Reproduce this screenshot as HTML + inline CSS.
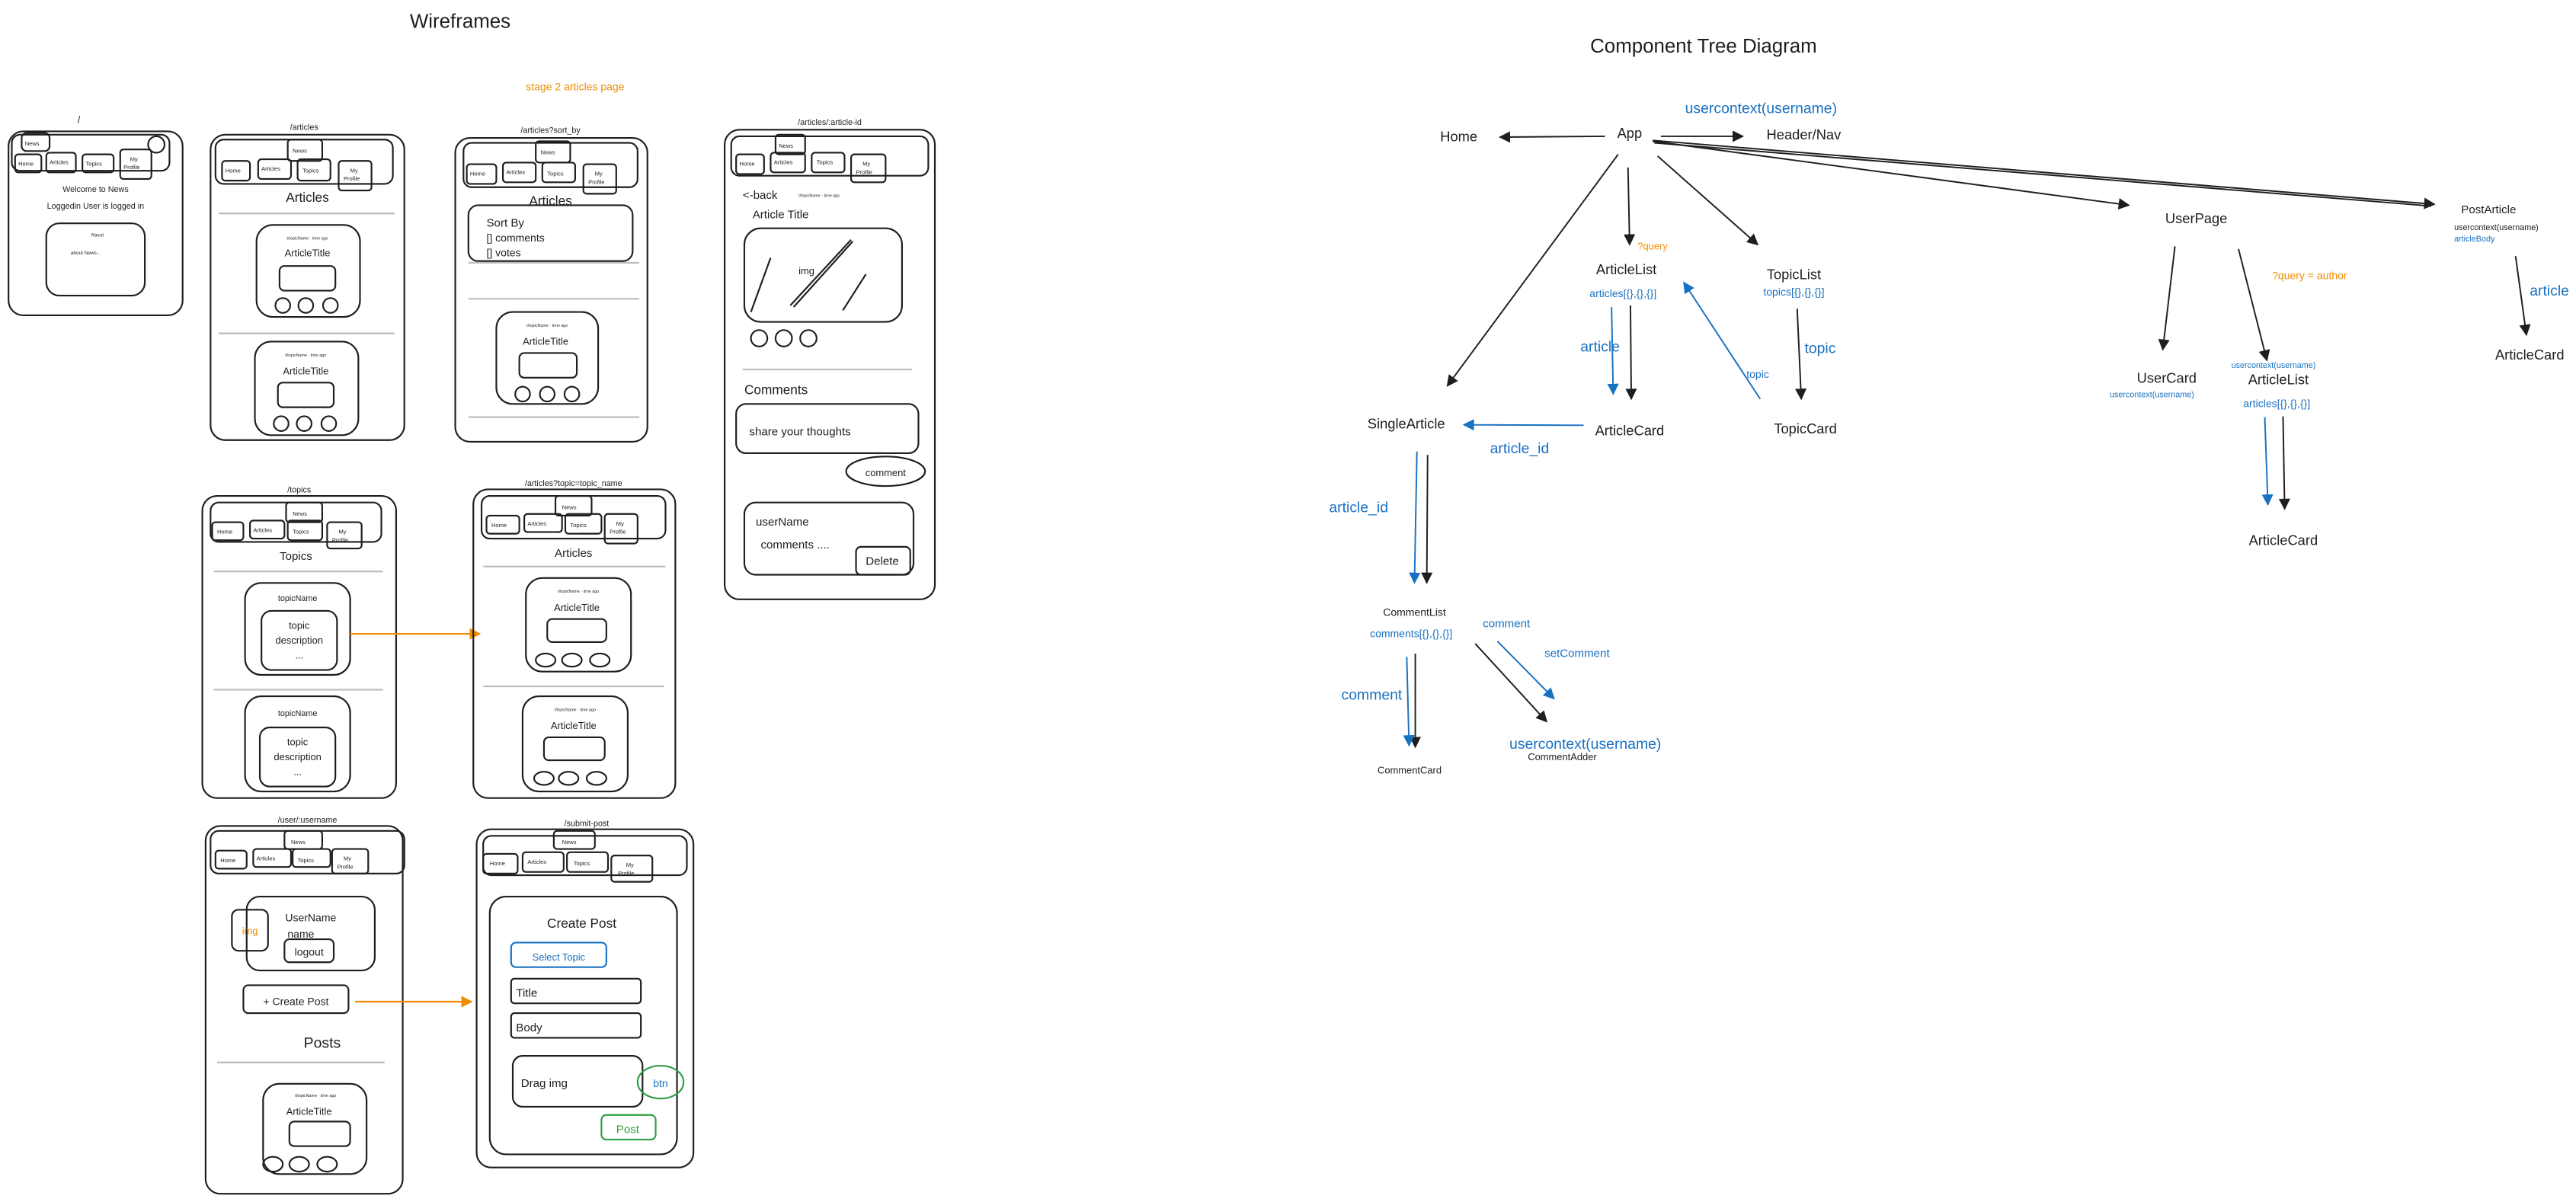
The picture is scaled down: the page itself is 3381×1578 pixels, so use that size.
<!DOCTYPE html>
<html><head><meta charset="utf-8"><style>
html,body{margin:0;padding:0;background:#fff}
svg{display:block}
text{font-family:"Liberation Sans",sans-serif;fill:#1e1e1e}
.b{fill:#1971c2}.o{fill:#f08c00}.g{fill:#2f9e44}
</style></head><body>
<svg width="3381" height="1578" viewBox="0 0 1568 732" xmlns="http://www.w3.org/2000/svg">
<defs>
<marker id="ak" viewBox="0 0 10 10" refX="9" refY="5" markerWidth="7" markerHeight="7" orient="auto" markerUnits="userSpaceOnUse"><path d="M0,0L10,5L0,10z" fill="#1e1e1e"/></marker>
<marker id="ab" viewBox="0 0 10 10" refX="9" refY="5" markerWidth="7" markerHeight="7" orient="auto" markerUnits="userSpaceOnUse"><path d="M0,0L10,5L0,10z" fill="#1971c2"/></marker>
<marker id="ao" viewBox="0 0 10 10" refX="9" refY="5" markerWidth="7" markerHeight="7" orient="auto" markerUnits="userSpaceOnUse"><path d="M0,0L10,5L0,10z" fill="#f08c00"/></marker>
</defs>
<rect width="1568" height="732" fill="#fff"/>

<g fill="none" stroke="#1e1e1e" stroke-width="1">
<text x="280" y="17" font-size="12" text-anchor="middle" stroke="none">Wireframes</text>
<text x="350" y="55" font-size="6.5" text-anchor="middle" class="o" stroke="none">stage 2 articles page</text>

<!-- Phone 1 "/" -->
<text x="47" y="75" font-size="6" stroke="none">/</text>
<rect x="5" y="80" width="106" height="112" rx="9"/>
<rect x="7" y="82" width="96" height="22" rx="5"/>
<rect x="13" y="81" width="17" height="11" rx="3"/><text x="15" y="88.5" font-size="3.5" stroke="none">News</text>
<circle cx="95" cy="88" r="5"/>
<rect x="9" y="94" width="16" height="11" rx="2"/><text x="11" y="101" font-size="3.5" stroke="none">Home</text>
<rect x="28" y="93" width="18" height="12" rx="2"/><text x="30" y="100" font-size="3.5" stroke="none">Articles</text>
<rect x="50" y="94" width="19" height="11" rx="2"/><text x="52" y="101" font-size="3.5" stroke="none">Topics</text>
<rect x="73" y="91" width="19" height="18" rx="2"/><text x="79" y="98" font-size="3.5" stroke="none">My</text><text x="75" y="103" font-size="3.5" stroke="none">Profile</text>
<text x="58" y="117" font-size="5" text-anchor="middle" stroke="none">Welcome to News</text>
<text x="58" y="127" font-size="5" text-anchor="middle" stroke="none">Loggedin User is logged in</text>
<rect x="28" y="136" width="60" height="44" rx="8"/>
<text x="59" y="144" font-size="3" text-anchor="middle" stroke="none">About</text>
<text x="52" y="155" font-size="3" text-anchor="middle" stroke="none">about News...</text>

<!-- Phone 2 /articles -->
<text x="185" y="79" font-size="5" text-anchor="middle" stroke="none">/articles</text>
<rect x="128" y="82" width="118" height="186" rx="9"/>
<rect x="131" y="85" width="108" height="27" rx="5"/>
<rect x="175" y="85" width="21" height="13" rx="2"/><text x="178" y="93" font-size="3.5" stroke="none">News</text>
<rect x="135" y="98" width="17" height="12" rx="2"/><text x="137" y="105" font-size="3.5" stroke="none">Home</text>
<rect x="157" y="97" width="20" height="12" rx="2"/><text x="159" y="104" font-size="3.5" stroke="none">Articles</text>
<rect x="181" y="97" width="20" height="13" rx="2"/><text x="184" y="105" font-size="3.5" stroke="none">Topics</text>
<rect x="206" y="98" width="20" height="18" rx="2"/><text x="213" y="105" font-size="3.5" stroke="none">My</text><text x="209" y="110" font-size="3.5" stroke="none">Profile</text>
<text x="187" y="123" font-size="8" text-anchor="middle" stroke="none">Articles</text>
<line x1="133" y1="130" x2="240" y2="130" stroke="#bbb"/>
<rect x="156" y="137" width="63" height="56" rx="10"/>
<text x="187" y="146" font-size="2.5" text-anchor="middle" stroke="none">t/topicName · time ago</text>
<text x="187" y="156" font-size="6" text-anchor="middle" stroke="none">ArticleTitle</text>
<rect x="170" y="162" width="34" height="15" rx="3"/>
<circle cx="172" cy="186" r="4.5"/><circle cx="186" cy="186" r="4.5"/><circle cx="201" cy="186" r="4.5"/>
<line x1="133" y1="203" x2="240" y2="203" stroke="#bbb"/>
<rect x="155" y="208" width="63" height="57" rx="10"/>
<text x="186" y="217" font-size="2.5" text-anchor="middle" stroke="none">t/topicName · time ago</text>
<text x="186" y="228" font-size="6" text-anchor="middle" stroke="none">ArticleTitle</text>
<rect x="169" y="233" width="34" height="15" rx="3"/>
<circle cx="171" cy="258" r="4.5"/><circle cx="185" cy="258" r="4.5"/><circle cx="200" cy="258" r="4.5"/>

<!-- Phone 3 sort_by -->
<text x="335" y="81" font-size="5" text-anchor="middle" stroke="none">/articles?sort_by</text>
<rect x="277" y="84" width="117" height="185" rx="9"/>
<rect x="282" y="87" width="106" height="27" rx="5"/>
<rect x="326" y="86" width="21" height="13" rx="2"/><text x="329" y="94" font-size="3.5" stroke="none">News</text>
<rect x="284" y="100" width="18" height="12" rx="2"/><text x="286" y="107" font-size="3.5" stroke="none">Home</text>
<rect x="306" y="99" width="20" height="12" rx="2"/><text x="308" y="106" font-size="3.5" stroke="none">Articles</text>
<rect x="330" y="99" width="20" height="12" rx="2"/><text x="333" y="107" font-size="3.5" stroke="none">Topics</text>
<rect x="355" y="100" width="20" height="18" rx="2"/><text x="362" y="107" font-size="3.5" stroke="none">My</text><text x="358" y="112" font-size="3.5" stroke="none">Profile</text>
<text x="335" y="125" font-size="8" text-anchor="middle" stroke="none">Articles</text>
<rect x="285" y="125" width="100" height="34" rx="6"/>
<text x="296" y="138" font-size="7" stroke="none">Sort By</text>
<text x="296" y="147" font-size="6.5" stroke="none">[] comments</text>
<text x="296" y="156" font-size="6.5" stroke="none">[] votes</text>
<line x1="285" y1="160" x2="389" y2="160" stroke="#bbb"/>
<line x1="285" y1="182" x2="389" y2="182" stroke="#bbb"/>
<rect x="302" y="190" width="62" height="56" rx="10"/>
<text x="333" y="199" font-size="2.5" text-anchor="middle" stroke="none">t/topicName · time ago</text>
<text x="332" y="210" font-size="6" text-anchor="middle" stroke="none">ArticleTitle</text>
<rect x="316" y="215" width="35" height="15" rx="3"/>
<circle cx="318" cy="240" r="4.5"/><circle cx="333" cy="240" r="4.5"/><circle cx="348" cy="240" r="4.5"/>
<line x1="285" y1="254" x2="389" y2="254" stroke="#bbb"/>

<!-- Phone 4 article-id -->
<text x="505" y="76" font-size="5" text-anchor="middle" stroke="none">/articles/:article-id</text>
<rect x="441" y="79" width="128" height="286" rx="9"/>
<rect x="445" y="83" width="120" height="24" rx="5"/>
<rect x="472" y="82" width="18" height="12" rx="2"/><text x="474" y="90" font-size="3.5" stroke="none">News</text>
<rect x="448" y="94" width="17" height="12" rx="2"/><text x="450" y="101" font-size="3.5" stroke="none">Home</text>
<rect x="469" y="93" width="21" height="12" rx="2"/><text x="471" y="100" font-size="3.5" stroke="none">Articles</text>
<rect x="494" y="93" width="20" height="12" rx="2"/><text x="497" y="100" font-size="3.5" stroke="none">Topics</text>
<rect x="518" y="94" width="21" height="17" rx="2"/><text x="525" y="101" font-size="3.5" stroke="none">My</text><text x="521" y="106" font-size="3.5" stroke="none">Profile</text>
<text x="452" y="121" font-size="7" stroke="none">&lt;-back</text>
<text x="486" y="120" font-size="2.5" stroke="none">t/topicName · time ago</text>
<text x="458" y="133" font-size="7" stroke="none">Article Title</text>
<rect x="453" y="139" width="96" height="57" rx="10"/>
<line x1="457" y1="190" x2="469" y2="157"/><line x1="481" y1="186" x2="518" y2="146"/><line x1="483" y1="187" x2="519" y2="147"/><line x1="513" y1="189" x2="527" y2="167"/>
<text x="486" y="167" font-size="6" stroke="none">img</text>
<circle cx="462" cy="206" r="5"/><circle cx="477" cy="206" r="5"/><circle cx="492" cy="206" r="5"/>
<line x1="452" y1="225" x2="555" y2="225" stroke="#bbb"/>
<text x="453" y="240" font-size="8" stroke="none">Comments</text>
<rect x="448" y="246" width="111" height="30" rx="6"/>
<text x="456" y="265" font-size="7" stroke="none">share your thoughts</text>
<ellipse cx="539" cy="287" rx="24" ry="9"/>
<text x="539" y="290" font-size="6" text-anchor="middle" stroke="none">comment</text>
<rect x="453" y="306" width="103" height="44" rx="7"/>
<text x="460" y="320" font-size="7" stroke="none">userName</text>
<text x="463" y="334" font-size="7" stroke="none">comments ....</text>
<rect x="521" y="333" width="33" height="17" rx="3"/>
<text x="537" y="344" font-size="7" text-anchor="middle" stroke="none">Delete</text>

<!-- Phone 5 /topics -->
<text x="182" y="300" font-size="5" text-anchor="middle" stroke="none">/topics</text>
<rect x="123" y="302" width="118" height="184" rx="9"/>
<rect x="128" y="306" width="104" height="24" rx="5"/>
<rect x="174" y="306" width="22" height="12" rx="2"/><text x="178" y="314" font-size="3.5" stroke="none">News</text>
<rect x="129" y="318" width="19" height="11" rx="2"/><text x="132" y="325" font-size="3.5" stroke="none">Home</text>
<rect x="152" y="317" width="21" height="11" rx="2"/><text x="154" y="324" font-size="3.5" stroke="none">Articles</text>
<rect x="175" y="317" width="21" height="12" rx="2"/><text x="178" y="325" font-size="3.5" stroke="none">Topics</text>
<rect x="199" y="318" width="21" height="16" rx="2"/><text x="206" y="325" font-size="3.5" stroke="none">My</text><text x="202" y="330" font-size="3.5" stroke="none">Profile</text>
<text x="180" y="341" font-size="7" text-anchor="middle" stroke="none">Topics</text>
<line x1="130" y1="348" x2="233" y2="348" stroke="#bbb"/>
<rect x="149" y="355" width="64" height="56" rx="10"/>
<text x="181" y="366" font-size="5" text-anchor="middle" stroke="none">topicName</text>
<rect x="159" y="372" width="46" height="36" rx="6"/>
<text x="182" y="383" font-size="6" text-anchor="middle" stroke="none">topic</text>
<text x="182" y="392" font-size="6" text-anchor="middle" stroke="none">description</text>
<text x="182" y="401" font-size="6" text-anchor="middle" stroke="none">...</text>
<line x1="130" y1="420" x2="233" y2="420" stroke="#bbb"/>
<rect x="149" y="424" width="64" height="58" rx="10"/>
<text x="181" y="436" font-size="5" text-anchor="middle" stroke="none">topicName</text>
<rect x="158" y="443" width="46" height="36" rx="6"/>
<text x="181" y="454" font-size="6" text-anchor="middle" stroke="none">topic</text>
<text x="181" y="463" font-size="6" text-anchor="middle" stroke="none">description</text>
<text x="181" y="472" font-size="6" text-anchor="middle" stroke="none">...</text>
<line x1="213" y1="386" x2="292" y2="386" stroke="#f08c00" marker-end="url(#ao)"/>

<!-- Phone 6 topic_name -->
<text x="349" y="296" font-size="5" text-anchor="middle" stroke="none">/articles?topic=topic_name</text>
<rect x="288" y="298" width="123" height="188" rx="9"/>
<rect x="293" y="302" width="112" height="26" rx="5"/>
<rect x="338" y="302" width="22" height="12" rx="2"/><text x="342" y="310" font-size="3.5" stroke="none">News</text>
<rect x="296" y="314" width="20" height="11" rx="2"/><text x="299" y="321" font-size="3.5" stroke="none">Home</text>
<rect x="319" y="313" width="23" height="11" rx="2"/><text x="321" y="320" font-size="3.5" stroke="none">Articles</text>
<rect x="344" y="313" width="22" height="12" rx="2"/><text x="347" y="321" font-size="3.5" stroke="none">Topics</text>
<rect x="368" y="313" width="20" height="18" rx="2"/><text x="375" y="320" font-size="3.5" stroke="none">My</text><text x="371" y="325" font-size="3.5" stroke="none">Profile</text>
<text x="349" y="339" font-size="7" text-anchor="middle" stroke="none">Articles</text>
<line x1="294" y1="345" x2="405" y2="345" stroke="#bbb"/>
<rect x="320" y="352" width="64" height="57" rx="10"/>
<text x="352" y="361" font-size="2.5" text-anchor="middle" stroke="none">t/topicName · time ago</text>
<text x="351" y="372" font-size="6" text-anchor="middle" stroke="none">ArticleTitle</text>
<rect x="333" y="377" width="36" height="14" rx="3"/>
<ellipse cx="332" cy="402" rx="6" ry="4"/><ellipse cx="348" cy="402" rx="6" ry="4"/><ellipse cx="365" cy="402" rx="6" ry="4"/>
<line x1="294" y1="418" x2="404" y2="418" stroke="#bbb"/>
<rect x="318" y="424" width="64" height="58" rx="10"/>
<text x="350" y="433" font-size="2.5" text-anchor="middle" stroke="none">t/topicName · time ago</text>
<text x="349" y="444" font-size="6" text-anchor="middle" stroke="none">ArticleTitle</text>
<rect x="331" y="449" width="37" height="14" rx="3"/>
<ellipse cx="331" cy="474" rx="6" ry="4"/><ellipse cx="346" cy="474" rx="6" ry="4"/><ellipse cx="363" cy="474" rx="6" ry="4"/>

<!-- Phone 7 user -->
<text x="187" y="501" font-size="5" text-anchor="middle" stroke="none">/user/:username</text>
<rect x="125" y="503" width="120" height="224" rx="9"/>
<rect x="128" y="506" width="118" height="26" rx="5"/>
<rect x="173" y="506" width="23" height="11" rx="2"/><text x="177" y="514" font-size="3.5" stroke="none">News</text>
<rect x="131" y="518" width="19" height="11" rx="2"/><text x="134" y="525" font-size="3.5" stroke="none">Home</text>
<rect x="154" y="517" width="23" height="11" rx="2"/><text x="156" y="524" font-size="3.5" stroke="none">Articles</text>
<rect x="178" y="517" width="23" height="11" rx="2"/><text x="181" y="525" font-size="3.5" stroke="none">Topics</text>
<rect x="202" y="517" width="22" height="15" rx="2"/><text x="209" y="524" font-size="3.5" stroke="none">My</text><text x="205" y="529" font-size="3.5" stroke="none">Profile</text>
<rect x="150" y="546" width="78" height="45" rx="8"/>
<rect x="141" y="554" width="22" height="25" rx="4"/>
<text x="152" y="569" font-size="6" text-anchor="middle" class="o" stroke="none">img</text>
<text x="189" y="561" font-size="6.5" text-anchor="middle" stroke="none">UserName</text>
<text x="183" y="571" font-size="6.5" text-anchor="middle" stroke="none">name</text>
<rect x="173" y="572" width="30" height="14" rx="3"/>
<text x="188" y="582" font-size="6.5" text-anchor="middle" stroke="none">logout</text>
<rect x="148" y="600" width="64" height="17" rx="3"/>
<text x="180" y="612" font-size="6.5" text-anchor="middle" stroke="none">+ Create Post</text>
<text x="196" y="638" font-size="9" text-anchor="middle" stroke="none">Posts</text>
<line x1="132" y1="647" x2="234" y2="647" stroke="#bbb"/>
<rect x="160" y="660" width="63" height="55" rx="10"/>
<text x="192" y="668" font-size="2.5" text-anchor="middle" stroke="none">t/topicName · time ago</text>
<text x="188" y="679" font-size="6" text-anchor="middle" stroke="none">ArticleTitle</text>
<rect x="176" y="683" width="37" height="15" rx="3"/>
<ellipse cx="166" cy="709" rx="6" ry="4.5"/><ellipse cx="182" cy="709" rx="6" ry="4.5"/><ellipse cx="199" cy="709" rx="6" ry="4.5"/>
<line x1="216" y1="610" x2="287" y2="610" stroke="#f08c00" marker-end="url(#ao)"/>

<!-- Phone 8 submit -->
<text x="357" y="503" font-size="5" text-anchor="middle" stroke="none">/submit-post</text>
<rect x="290" y="505" width="132" height="206" rx="9"/>
<rect x="294" y="509" width="124" height="24" rx="5"/>
<rect x="337" y="506" width="25" height="11" rx="2"/><text x="342" y="514" font-size="3.5" stroke="none">News</text>
<rect x="294" y="520" width="21" height="12" rx="2"/><text x="298" y="527" font-size="3.5" stroke="none">Home</text>
<rect x="318" y="519" width="25" height="12" rx="2"/><text x="321" y="526" font-size="3.5" stroke="none">Articles</text>
<rect x="345" y="519" width="25" height="12" rx="2"/><text x="349" y="527" font-size="3.5" stroke="none">Topics</text>
<rect x="372" y="521" width="25" height="16" rx="2"/><text x="381" y="528" font-size="3.5" stroke="none">My</text><text x="376" y="533" font-size="3.5" stroke="none">Profile</text>
<rect x="298" y="546" width="114" height="157" rx="10"/>
<text x="354" y="565" font-size="8" text-anchor="middle" stroke="none">Create Post</text>
<rect x="311" y="574" width="58" height="15" rx="3" stroke="#1971c2"/>
<text x="340" y="585" font-size="6" text-anchor="middle" class="b" stroke="none">Select Topic</text>
<rect x="311" y="596" width="79" height="15" rx="2"/>
<text x="314" y="607" font-size="7" stroke="none">Title</text>
<rect x="311" y="617" width="79" height="15" rx="2"/>
<text x="314" y="628" font-size="7" stroke="none">Body</text>
<rect x="312" y="643" width="79" height="31" rx="6"/>
<text x="317" y="662" font-size="7" stroke="none">Drag img</text>
<ellipse cx="402" cy="659" rx="14" ry="10" stroke="#2f9e44"/>
<text x="402" y="662" font-size="6.5" text-anchor="middle" class="b" stroke="none">btn</text>
<rect x="366" y="679" width="33" height="15" rx="3" stroke="#2f9e44"/>
<text x="382" y="690" font-size="7" text-anchor="middle" class="g" stroke="none">Post</text>
</g>

<!-- Component Tree -->
<g stroke-width="0.9" fill="none">
<line x1="977" y1="83" x2="913" y2="83.5" stroke="#1e1e1e" marker-end="url(#ak)"/>
<line x1="1011" y1="83" x2="1061" y2="83" stroke="#1e1e1e" marker-end="url(#ak)"/>
<line x1="1006" y1="86" x2="1296" y2="125" stroke="#1e1e1e" marker-end="url(#ak)"/>
<line x1="1006" y1="85.5" x2="1482" y2="124.4" stroke="#1e1e1e" marker-end="url(#ak)"/>
<line x1="1007" y1="87" x2="1480" y2="125.5" stroke="#1e1e1e"/>
<line x1="985" y1="94" x2="881" y2="235" stroke="#1e1e1e" marker-end="url(#ak)"/>
<line x1="991" y1="102" x2="992" y2="149" stroke="#1e1e1e" marker-end="url(#ak)"/>
<line x1="1009" y1="95" x2="1070" y2="149" stroke="#1e1e1e" marker-end="url(#ak)"/>
<line x1="992.5" y1="186" x2="993" y2="243" stroke="#1e1e1e" marker-end="url(#ak)"/>
<line x1="981" y1="187" x2="982" y2="240" stroke="#1971c2" marker-end="url(#ab)"/>
<line x1="1071.5" y1="243" x2="1025" y2="172" stroke="#1971c2" marker-end="url(#ab)"/>
<line x1="1094" y1="188" x2="1096.5" y2="243" stroke="#1e1e1e" marker-end="url(#ak)"/>
<line x1="964" y1="259" x2="891" y2="258.7" stroke="#1971c2" marker-end="url(#ab)"/>
<line x1="869" y1="277" x2="868.5" y2="355" stroke="#1e1e1e" marker-end="url(#ak)"/>
<line x1="862.5" y1="275" x2="861" y2="355" stroke="#1971c2" marker-end="url(#ab)"/>
<line x1="898" y1="392" x2="941.5" y2="439.5" stroke="#1e1e1e" marker-end="url(#ak)"/>
<line x1="911.5" y1="390.5" x2="946" y2="425.5" stroke="#1971c2" marker-end="url(#ab)"/>
<line x1="861.5" y1="398" x2="861.5" y2="455" stroke="#1e1e1e" marker-end="url(#ak)"/>
<line x1="856.3" y1="400" x2="857.7" y2="454" stroke="#1971c2" marker-end="url(#ab)"/>
<line x1="1324" y1="150" x2="1316.6" y2="213" stroke="#1e1e1e" marker-end="url(#ak)"/>
<line x1="1362.7" y1="151.6" x2="1380" y2="219.5" stroke="#1e1e1e" marker-end="url(#ak)"/>
<line x1="1378.7" y1="254" x2="1380.6" y2="307.4" stroke="#1971c2" marker-end="url(#ab)"/>
<line x1="1389.8" y1="253.6" x2="1390.8" y2="310" stroke="#1e1e1e" marker-end="url(#ak)"/>
<line x1="1531.4" y1="156" x2="1538" y2="204" stroke="#1e1e1e" marker-end="url(#ak)"/>
</g>
<g font-size="8.5">
<text x="1037" y="32" font-size="12" text-anchor="middle">Component Tree Diagram</text>
<text x="1072" y="69" font-size="9" text-anchor="middle" class="b">usercontext(username)</text>
<text x="888" y="86" text-anchor="middle">Home</text>
<text x="992" y="84" text-anchor="middle">App</text>
<text x="1098" y="85" text-anchor="middle">Header/Nav</text>
<text x="1006" y="152" font-size="6" text-anchor="middle" class="o">?query</text>
<text x="990" y="167" text-anchor="middle">ArticleList</text>
<text x="988" y="181" font-size="6.5" text-anchor="middle" class="b">articles[{},{},{}]</text>
<text x="1092" y="170" text-anchor="middle">TopicList</text>
<text x="1092" y="180" font-size="6.5" text-anchor="middle" class="b">topics[{},{},{}]</text>
<text x="974" y="214" font-size="9" text-anchor="middle" class="b">article</text>
<text x="1108" y="215" font-size="9" text-anchor="middle" class="b">topic</text>
<text x="1070" y="230" font-size="6.5" text-anchor="middle" class="b">topic</text>
<text x="856" y="261" text-anchor="middle">SingleArticle</text>
<text x="992" y="265" text-anchor="middle">ArticleCard</text>
<text x="1099" y="264" text-anchor="middle">TopicCard</text>
<text x="925" y="276" font-size="9" text-anchor="middle" class="b">article_id</text>
<text x="827" y="312" font-size="9" text-anchor="middle" class="b">article_id</text>
<text x="861" y="375" font-size="6.5" text-anchor="middle">CommentList</text>
<text x="859" y="388" font-size="6.5" text-anchor="middle" class="b">comments[{},{},{}]</text>
<text x="917" y="382" font-size="7" text-anchor="middle" class="b">comment</text>
<text x="960" y="400" font-size="7" text-anchor="middle" class="b">setComment</text>
<text x="835" y="426" font-size="9" text-anchor="middle" class="b">comment</text>
<text x="965" y="456" font-size="9" text-anchor="middle" class="b">usercontext(username)</text>
<text x="951" y="463" font-size="6" text-anchor="middle">CommentAdder</text>
<text x="858" y="471" font-size="6" text-anchor="middle">CommentCard</text>
<text x="1337" y="136" text-anchor="middle">UserPage</text>
<text x="1515" y="130" font-size="7" text-anchor="middle">PostArticle</text>
<text x="1494" y="140" font-size="5">usercontext(username)</text>
<text x="1494" y="147" font-size="5" class="b">articleBody</text>
<text x="1406" y="170" font-size="6.5" text-anchor="middle" class="o">?query = author</text>
<text x="1552" y="180" font-size="9" text-anchor="middle" class="b">article</text>
<text x="1540" y="219" text-anchor="middle">ArticleCard</text>
<text x="1384" y="224" font-size="5" text-anchor="middle" class="b">usercontext(username)</text>
<text x="1319" y="233" text-anchor="middle">UserCard</text>
<text x="1387" y="234" text-anchor="middle">ArticleList</text>
<text x="1310" y="242" font-size="5" text-anchor="middle" class="b">usercontext(username)</text>
<text x="1386" y="248" font-size="6.5" text-anchor="middle" class="b">articles[{},{},{}]</text>
<text x="1390" y="332" text-anchor="middle">ArticleCard</text>
</g>
</svg>
</body></html>
